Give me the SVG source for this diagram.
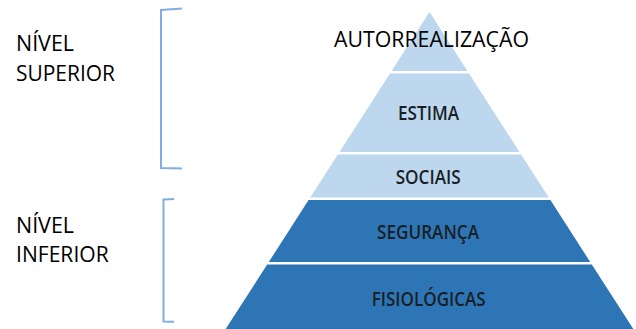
<svg xmlns="http://www.w3.org/2000/svg" width="636" height="329" viewBox="0 0 636 329">
<style>
.light{fill:#BDD7EE}
.dark{fill:#2E75B6}
.lbl{font-family:"Open Sans",Lato,"Liberation Sans",sans-serif;fill:#1a1f26;text-anchor:middle;font-weight:600}
.side{font-family:"Open Sans",Lato,"Liberation Sans",sans-serif;fill:#000;font-size:21.5px;font-weight:500}
.br{fill:none;stroke:#7FAEE2;stroke-width:2}
</style>
<rect width="636" height="329" fill="#fff"/>
<g id="autorrealizacao">
<polygon class="light" points="429.5,12 467.4,71 391.6,71"/>
<text class="lbl" x="431.5" y="47" font-size="21" textLength="195" lengthAdjust="spacingAndGlyphs" style="fill:#000;font-weight:500">AUTORREALIZAÇÃO</text>
</g>
<g id="estima">
<polygon class="light" points="390,73.5 469,73.5 519.5,152 339.5,152"/>
<text class="lbl" x="428.5" y="120" font-size="19.5" textLength="61" lengthAdjust="spacingAndGlyphs">ESTIMA</text>
</g>
<g id="sociais">
<polygon class="light" points="337.9,154.5 521.1,154.5 548.8,197.5 310.2,197.5"/>
<text class="lbl" x="428.2" y="184.3" font-size="19" textLength="65" lengthAdjust="spacingAndGlyphs">SOCIAIS</text>
</g>
<g id="seguranca">
<polygon class="dark" points="308.6,200 550.4,200 590.2,262 268.8,262"/>
<text class="lbl" x="428" y="239" font-size="19.5" textLength="102" lengthAdjust="spacingAndGlyphs">SEGURANÇA</text>
</g>
<g id="fisiologicas">
<polygon class="dark" points="267.2,264.5 591.8,264.5 637.2,335 221.8,335"/>
<text class="lbl" x="428.7" y="305.7" font-size="19.5" textLength="114" lengthAdjust="spacingAndGlyphs">FISIOLÓGICAS</text>
</g>
<g id="nivel-superior">
<path class="br" d="M182,8.5 L161,10 L161,168 L182,168.5"/>
<text class="side" x="16" y="50.7" textLength="58" lengthAdjust="spacingAndGlyphs">NÍVEL</text>
<text class="side" x="16" y="80.7" textLength="99" lengthAdjust="spacingAndGlyphs">SUPERIOR</text>
</g>
<g id="nivel-inferior">
<path class="br" d="M174,199 L163.5,199.5 L163.5,321.5 L174,321.8"/>
<text class="side" x="16" y="233" textLength="58" lengthAdjust="spacingAndGlyphs">NÍVEL</text>
<text class="side" x="16" y="262" textLength="92.7" lengthAdjust="spacingAndGlyphs">INFERIOR</text>
</g>
<g id="connectors"></g>
</svg>
